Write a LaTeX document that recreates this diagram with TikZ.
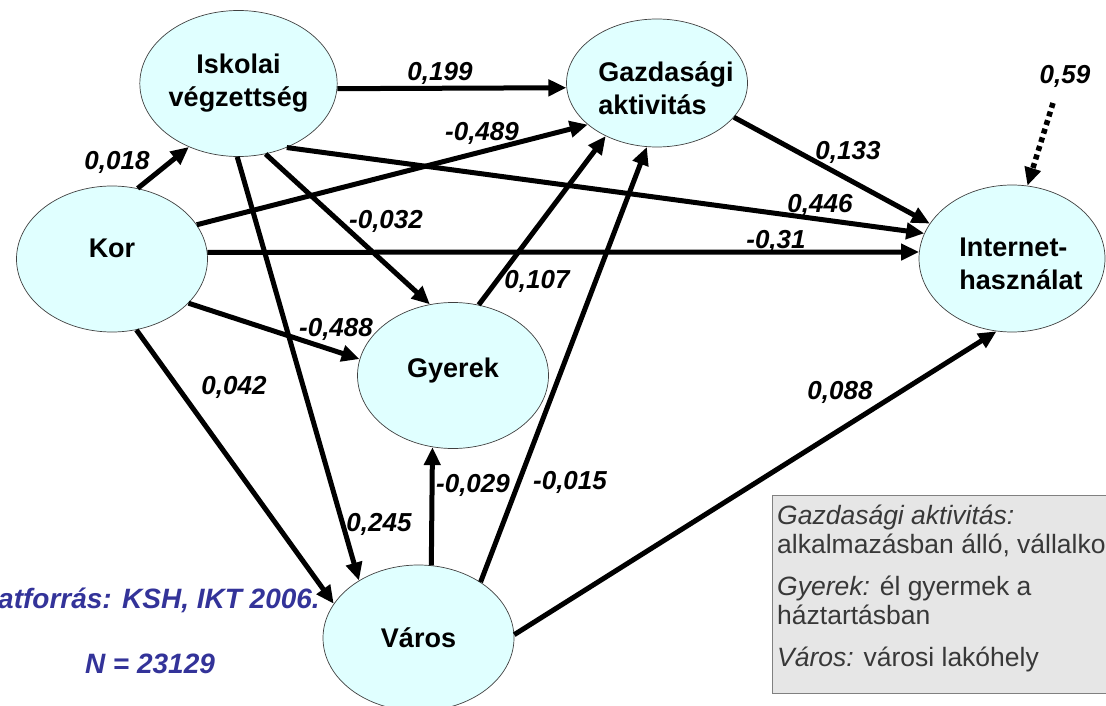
\documentclass[tikz,border=0pt]{standalone}
\usepackage{fontspec}
\setmainfont{Liberation Sans}
\usetikzlibrary{shapes.geometric,arrows.meta}
\definecolor{ellfill}{HTML}{E0FFFF}
\definecolor{srcblue}{HTML}{333399}
\definecolor{boxfill}{HTML}{E6E6E6}
\definecolor{boxline}{HTML}{808080}
\definecolor{boxtext}{HTML}{383838}

\begin{document}
\begin{tikzpicture}[x=1pt,y=-1pt,
  factor/.style={ellipse, draw=black!75, line width=0.7pt, fill=ellfill, inner sep=0pt, align=center,
    minimum width=191pt, minimum height=146pt, font=\fontsize{27}{33}\selectfont\bfseries},
  coef/.style={inner sep=0pt, font=\fontsize{26}{30}\selectfont\bfseries\itshape},
  effect/.style={line width=5pt, -{Triangle[length=18pt,width=16pt]}},
  resid/.style={effect, line width=5.5pt, dash pattern=on 5pt off 4pt},
  source/.style={inner sep=0pt, text=srcblue, font=\fontsize{28}{30}\selectfont\bfseries\itshape},
  legend/.style={inner sep=0pt, align=left, text=boxtext, font=\fontsize{26.5}{29}\selectfont}]
\useasboundingbox (0,0) rectangle (1106,706);

% factors
\node[factor] (isk) at (238.5,83.5) {Iskolai\\végzettség};
\node[factor, minimum width=181pt, minimum height=128pt, align=left, inner xsep=-20pt] (gaz) at (657,83)
  {\rule{0pt}{30pt}\hspace*{18pt}Gazdasági\\\hspace*{18pt}aktivitás};
\node[factor, text height=19pt, text depth=22pt] (kor) at (112,259) {Kor};
\node[factor, text height=19pt, text depth=16pt] (gye) at (453,375.5) {Gyerek};
\node[factor] (var) at (418.5,638) {Város};
\node[factor, minimum width=186pt, minimum height=147pt, align=left, inner xsep=-20pt] (int) at (1012,258.5)
  {\rule{0pt}{30pt}\hspace*{18pt}Internet-\\\hspace*{18pt}használat};
\coordinate (err) at (1053,103);

% paths
\draw[effect] (kor.70) -- (isk.232);
\draw[effect] (isk.357) -- (gaz.183);
\draw[effect] (kor.22) -- (gaz.211);
\draw[effect] (isk.307) -- (int.164);
\draw[effect] (kor.4) -- (int.176);
\draw[effect] (isk.291) -- (gye.108);
\draw[effect] (kor.330) -- (gye.170);
\draw[effect] (kor.289) -- (var.158);
\draw[effect] (isk.269) -- (var.136);
\draw[effect] (gye.70) -- (gaz.226);
\draw[effect] (var.42) -- (gaz.261);
\draw[effect] (var.80) -- (gye.254);
\draw[effect] (gaz.336) -- (int.157);
\draw[effect] (var.2) -- (int.258);
\draw[resid] (err) -- (int.78);

% coefficients
\node[coef] (c018) at (117,162) {0,018};
\node[coef] (c199) at (440,73) {0,199};
\node[coef] (c489) at (482,133) {-0,489};
\node[coef] (c032) at (386,221) {-0,032};
\node[coef] (c107) at (537,281) {0,107};
\node[coef] (c488) at (336,329) {-0,488};
\node[coef] (c042) at (234,387) {0,042};
\node[coef] (c245) at (379,524) {0,245};
\node[coef] (c029) at (473,485) {-0,029};
\node[coef] (c015) at (570,482) {-0,015};
\node[coef] (c133) at (848,152) {0,133};
\node[coef] (c446) at (820,205) {0,446};
\node[coef] (c031) at (776,241) {-0,31};
\node[coef] (c088) at (840,392) {0,088};
\node[coef] (c059) at (1065,76) {0,59};

% source
\node[source, anchor=base east] (src) at (320,608) {atforrás: KSH, IKT 2006.};
\node[source, anchor=base] (nn) at (150,673) {N = 23129};

% legend
\draw[fill=boxfill, draw=boxline, line width=1pt] (772,495) rectangle (1130,693);
\node[legend, anchor=north west] (leg) at (777,505) {\textit{Gazdasági aktivitás:}\\alkalmazásban álló, vállalko\\[13pt]
  \textit{Gyerek:} él gyermek a\\háztartásban\\[13pt]\textit{Város:} városi lakóhely};
\end{tikzpicture}
\end{document}
